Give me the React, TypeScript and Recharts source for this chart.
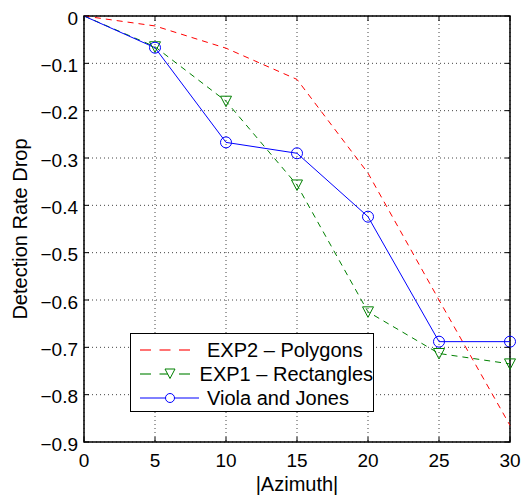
import {
  LineChart,
  Line,
  XAxis,
  YAxis,
  CartesianGrid,
  Legend,
  ReferenceArea,
} from 'recharts';

const azimuth = [0, 5, 10, 15, 20, 25, 30];
const exp2Polygons = [0, -0.021, -0.068, -0.134, -0.332, -0.6, -0.865];
const exp1Rectangles = [0, -0.065, -0.18, -0.357, -0.625, -0.713, -0.735];
const violaJones = [0, -0.067, -0.267, -0.29, -0.424, -0.688, -0.688];

const xTicks = [0, 5, 10, 15, 20, 25, 30];
const yTicks = [0, -0.1, -0.2, -0.3, -0.4, -0.5, -0.6, -0.7, -0.8, -0.9];

const data = azimuth.map((a, i) => ({
  azimuth: a,
  exp2: exp2Polygons[i],
  exp1: exp1Rectangles[i],
  vj: violaJones[i],
}));

// plot box (matches the chart margins below)
const PLOT_LEFT = 84;
const PLOT_TOP = 16;
const PLOT_RIGHT = 510;
const PLOT_BOTTOM = 442;
const FONT = 'Liberation Sans, Arial, Helvetica, sans-serif';
const TICK_FS = 19;
const LABEL_FS = 20;

const SERIES = [
  { key: 'exp2', name: 'EXP2 \u2013 Polygons', color: '#ff0000', dash: '6 5', marker: 'none' },
  { key: 'exp1', name: 'EXP1 \u2013 Rectangles', color: '#008000', dash: '6 5', marker: 'tri' },
  { key: 'vj', name: 'Viola and Jones', color: '#0000ff', dash: undefined, marker: 'circle' },
];

const fmt = (v: number) => (v === 0 ? '0' : v < 0 ? '\u2212' + Math.abs(v).toFixed(1) : v.toFixed(1));

const XTick = ({ x, y, payload }: any) => (
  <g>
    <line x1={x} x2={x} y1={PLOT_BOTTOM} y2={PLOT_BOTTOM - 5} stroke="#000" />
    <line x1={x} x2={x} y1={PLOT_TOP} y2={PLOT_TOP + 5} stroke="#000" />
    <text x={x} y={y + 25} textAnchor="middle" fontSize={TICK_FS} fontFamily={FONT} fill="#000">
      {payload.value}
    </text>
  </g>
);

const YTick = ({ x, y, payload }: any) => (
  <g>
    <line x1={PLOT_LEFT} x2={PLOT_LEFT + 5} y1={y} y2={y} stroke="#000" />
    <line x1={PLOT_RIGHT - 5} x2={PLOT_RIGHT} y1={y} y2={y} stroke="#000" />
    <text x={x - 6} y={y} dy="0.45em" textAnchor="end" fontSize={TICK_FS} fontFamily={FONT} fill="#000">
      {fmt(payload.value)}
    </text>
  </g>
);

const TriangleDot = ({ cx, cy, index, stroke }: any) => {
  if (index === 0) return <g key={`t-${index}`} />;
  return (
    <path
      key={`t-${index}`}
      d={`M${cx - 5.5},${cy - 5} L${cx + 5.5},${cy - 5} L${cx},${cy + 5.5} Z`}
      fill="none"
      stroke={stroke}
      strokeWidth={1}
    />
  );
};

const CircleDot = ({ cx, cy, index, stroke }: any) => {
  if (index === 0) return <g key={`c-${index}`} />;
  return <circle key={`c-${index}`} cx={cx} cy={cy} r={5.5} fill="none" stroke={stroke} strokeWidth={1} />;
};

const LegendBox = () => (
  <div
    style={{
      width: 244,
      height: 79,
      boxSizing: 'border-box',
      border: '1.5px solid #000',
      background: '#fff',
      fontFamily: FONT,
      fontSize: LABEL_FS,
      paddingTop: 4,
    }}
  >
    {SERIES.map((s) => (
      <div key={s.key} style={{ display: 'flex', alignItems: 'center', height: 24, whiteSpace: 'nowrap' }}>
        <svg width={62} height={14} style={{ marginLeft: 9, marginRight: 5 }}>
          <line
            x1={0}
            x2={s.dash ? 52 : 59}
            y1={7}
            y2={7}
            stroke={s.color}
            strokeDasharray={s.dash ? '11 8.5' : undefined}
            strokeOpacity={s.dash ? 0.55 : 1}
            strokeWidth={s.dash ? 2 : 1}
          />
          {s.marker === 'tri' && <path d="M25,2 L35,2 L30,11.5 Z" fill="#fff" stroke={s.color} />}
          {s.marker === 'circle' && <circle cx={30} cy={7} r={4.5} fill="#fff" stroke={s.color} />}
        </svg>
        <span>{s.name}</span>
      </div>
    ))}
  </div>
);

export default function App() {
  return (
    <div style={{ position: 'absolute', left: 0, top: 0, background: '#fff' }}>
      <LineChart
        width={521}
        height={498}
        data={data}
        margin={{ top: PLOT_TOP, right: 521 - PLOT_RIGHT, bottom: 0, left: 0 }}
      >
        <CartesianGrid stroke="#444" strokeDasharray="1 3" strokeWidth={1} />
        <XAxis
          dataKey="azimuth"
          type="number"
          domain={[0, 30]}
          ticks={xTicks}
          interval={0}
          height={498 - PLOT_BOTTOM}
          tickSize={0}
          tickMargin={0}
          axisLine={false}
          tickLine={false}
          tick={<XTick />}
          label={{
            content: ({ viewBox }: any) => (
              <text
                x={viewBox.x + viewBox.width / 2}
                y={viewBox.y + 49}
                textAnchor="middle"
                fontSize={LABEL_FS}
                fontFamily={FONT}
                fill="#000"
              >
                |Azimuth|
              </text>
            ),
          }}
        />
        <YAxis
          type="number"
          domain={[-0.9, 0]}
          ticks={yTicks}
          interval={0}
          width={PLOT_LEFT}
          tickSize={0}
          tickMargin={0}
          axisLine={false}
          tickLine={false}
          tick={<YTick />}
          label={{
            content: ({ viewBox }: any) => {
              const cx = 22;
              const cy = viewBox.y + viewBox.height / 2;
              return (
                <text
                  x={cx}
                  y={cy}
                  transform={`rotate(-90 ${cx} ${cy})`}
                  textAnchor="middle"
                  dominantBaseline="middle"
                  fontSize={LABEL_FS}
                  fontFamily={FONT}
                  fill="#000"
                >
                  Detection Rate Drop
                </text>
              );
            },
          }}
        />
        <ReferenceArea x1={0} x2={30} y1={-0.9} y2={0} fill="none" stroke="#000" strokeWidth={1.5} />
        <Line
          dataKey="exp2"
          name={SERIES[0].name}
          stroke={SERIES[0].color}
          strokeDasharray={SERIES[0].dash}
          strokeWidth={1}
          dot={false}
          activeDot={false}
          isAnimationActive={false}
        />
        <Line
          dataKey="exp1"
          name={SERIES[1].name}
          stroke={SERIES[1].color}
          strokeDasharray={SERIES[1].dash}
          strokeWidth={1}
          dot={(p: any) => <TriangleDot {...p} />}
          activeDot={false}
          isAnimationActive={false}
        />
        <Line
          dataKey="vj"
          name={SERIES[2].name}
          stroke={SERIES[2].color}
          strokeWidth={1}
          dot={(p: any) => <CircleDot {...p} />}
          activeDot={false}
          isAnimationActive={false}
        />
        <Legend
          layout="vertical"
          align="center"
          verticalAlign="middle"
          content={() => <LegendBox />}
          wrapperStyle={{ position: 'absolute', left: 130, top: 333, width: 244, height: 79 }}
        />
      </LineChart>
    </div>
  );
}
